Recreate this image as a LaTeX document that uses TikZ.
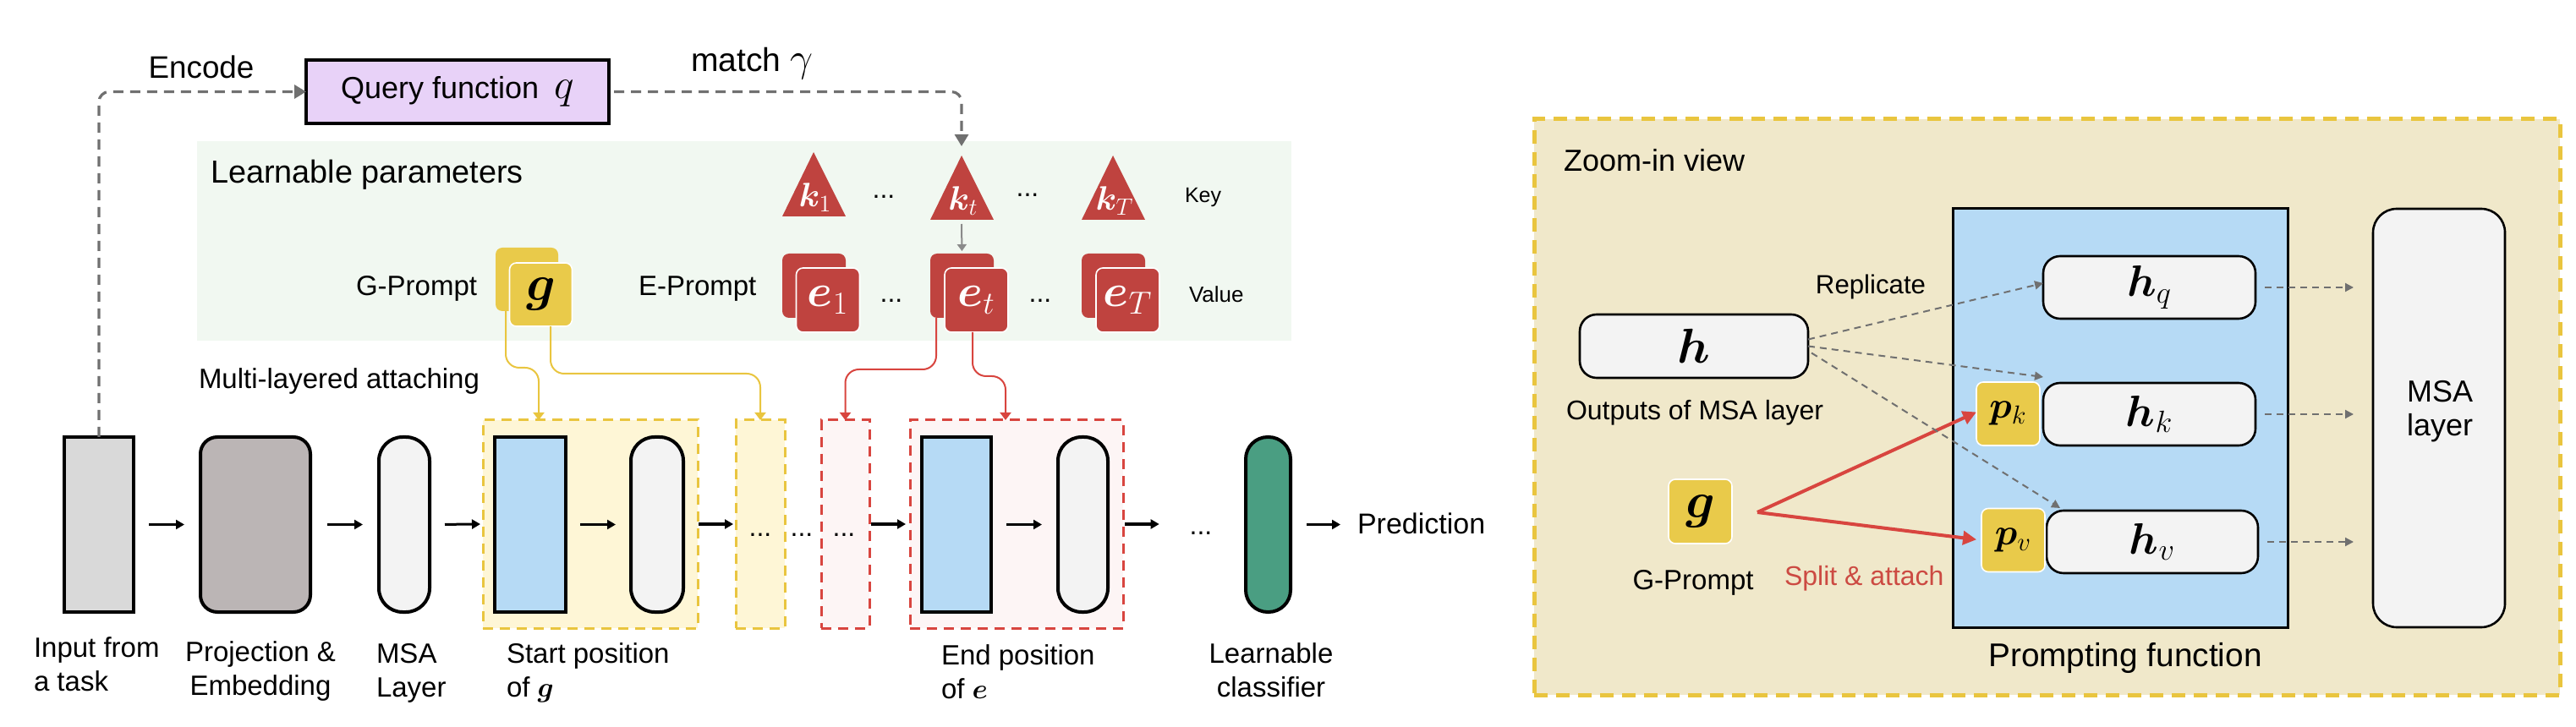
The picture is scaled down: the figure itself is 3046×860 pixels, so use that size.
\RequirePackage{fix-cm}
\documentclass[tikz,border=0pt]{standalone}
\usepackage{amsmath}
\usepackage{bm}
\usepackage{fontspec}
\setmainfont{Liberation Sans}
\usetikzlibrary{arrows.meta,calc}
\definecolor{qpurple}{HTML}{E8D2F8}
\definecolor{lgreen}{HTML}{F1F8F1}
\definecolor{kred}{HTML}{BF433F}
\definecolor{gyel}{HTML}{E9CA4A}
\definecolor{inpgrey}{HTML}{D9D9D9}
\definecolor{projgrey}{HTML}{BBB5B5}
\definecolor{msagrey}{HTML}{F3F3F3}
\definecolor{lblue}{HTML}{B6DAF5}
\definecolor{yfill}{HTML}{FEF6D6}
\definecolor{ydash}{HTML}{E9C53F}
\definecolor{rfill}{HTML}{FDF5F5}
\definecolor{rdash}{HTML}{D8453F}
\definecolor{clsgreen}{HTML}{4A9E82}
\definecolor{zfill}{HTML}{F0E8CA}
\definecolor{dgrey}{HTML}{707070}
\definecolor{agrey}{HTML}{8A8A8A}
\definecolor{splitred}{HTML}{CC4A42}
\begin{document}
\begin{tikzpicture}[x=0.5pt,y=-0.5pt,
  every node/.style={inner sep=0pt,outer sep=0pt},
  txt/.style={font=\fontsize{#1}{20}\selectfont},
  blk/.style={draw=black,line width=2pt,minimum height=103.5pt},
  region/.style={line width=1.5pt,dash pattern=on 6pt off 4pt,minimum height=123pt},
  rowarr/.style={-{Triangle[length=5pt,width=5.5pt]},line width=1.5pt},
  gdash/.style={draw=dgrey,line width=1.6pt,dash pattern=on 6pt off 4pt,-{Triangle[length=7pt,width=8pt]}},
  gdashs/.style={draw=dgrey,line width=1pt,dash pattern=on 4pt off 3pt,-{Triangle[length=5pt,width=5pt]}},
  yline/.style={draw=ydash,line width=1pt,rounded corners=8pt,-{Triangle[length=4.5pt,width=6.5pt]}},
  rline/.style={draw=rdash,line width=1pt,rounded corners=8pt,-{Triangle[length=4.5pt,width=6.5pt]}},
  rarr/.style={draw=rdash,line width=2pt,-{Triangle[length=8pt,width=8pt]}},
  kcardb/.style={fill=kred,rounded corners=4pt,minimum width=37.5pt,minimum height=38pt},
  kcardf/.style={fill=kred,draw=white,line width=0.8pt,rounded corners=4pt,minimum width=37.5pt,minimum height=38pt,text=white,font=\fontsize{27}{30}\selectfont},
  gcardb/.style={fill=gyel,rounded corners=4pt,minimum width=37pt,minimum height=37.5pt},
  gcardf/.style={fill=gyel,draw=white,line width=0.8pt,rounded corners=4pt,minimum width=37pt,minimum height=37.5pt,font=\fontsize{30}{32}\selectfont},
  hbx/.style={fill=msagrey,draw=black,line width=1.3pt,rounded corners=10pt,minimum height=37pt},
  dots/.style={font=\fontsize{16}{20}\selectfont}
]
\useasboundingbox (0,0) rectangle (3046,860);

% ---------- learnable parameters panel ----------
\node[fill=lgreen,minimum width=647pt,minimum height=118pt] (panel) at (880,285) {};
\node[txt=18.9,anchor=base west] (lp) at (249,217) {Learnable parameters};

\fill[kred] (925,256) -- (962,180) -- (1000,256) -- cycle;
\fill[kred] (1100,260) -- (1137,184) -- (1175,260) -- cycle;
\fill[kred] (1279,260) -- (1316,184) -- (1354,260) -- cycle;
\node[txt=20,text=white] (k1) at (964,234) {$\bm{k}_1$};
\node[txt=20,text=white] (kt) at (1139,238) {$\bm{k}_t$};
\node[txt=20,text=white] (kT) at (1318,238) {$\bm{k}_T$};
\coordinate (ktapex) at (1137,184);
\coordinate (ktbase) at (1137,265);
\node[dots] (kd1) at (1045,233) {...};
\node[dots] (kd2) at (1215,231) {...};
\node[txt=12.5,anchor=base west] (key) at (1401,240) {Key};

\node[kcardb] (e1b) at (962.5,338) {};
\node[kcardf] (e1f) at (979,355) {$\bm{e}_1$};
\node[kcardb] (etb) at (1137.5,338) {};
\node[kcardf] (etf) at (1154.5,355) {$\bm{e}_t$};
\node[kcardb] (eTb) at (1316.5,338) {};
\node[kcardf] (eTf) at (1333.5,355) {$\bm{e}_T$};
\node[dots] (ed1) at (1054,356) {...};
\node[dots] (ed2) at (1230,356) {...};
\node[txt=13,anchor=base west] (val) at (1406,358) {Value};
\node[txt=16.5,anchor=base west] (ep) at (755,350) {E-Prompt};

\node[gcardb] (gb) at (623,330.5) {};
\node[gcardf] (gf) at (639.5,348.5) {$\bm{g}$};
\node[txt=16.5,anchor=base west] (gp) at (421,350) {G-Prompt};

\draw[draw=agrey,line width=1pt,-{Triangle[length=4pt,width=5.5pt]},shorten >=1.5pt] (ktbase) -- (etb.north);

% ---------- query function ----------
\node[draw=black,line width=2pt,fill=qpurple,minimum width=179pt,minimum height=37.5pt,txt=18] (qbox) at (541,108.5) {Query function\hspace{9pt}{\fontsize{25}{28}\selectfont$q$}};
\node[txt=18.4,anchor=base] (enc) at (238,93) {Encode};
\node[txt=19.5,anchor=base west] (match) at (817,85) {match {\fontsize{24}{28}\selectfont$\gamma$}};

\node[txt=16.5,anchor=base west] (mla) at (235,460) {Multi-layered attaching};

% ---------- main row ----------
\node[blk,fill=inpgrey,minimum width=41pt] (inp) at (117,620.5) {};
\node[blk,fill=projgrey,minimum width=65pt,rounded corners=10pt] (proj) at (302,620.5) {};
\node[blk,fill=msagrey,minimum width=30pt,rounded corners=14pt] (msa1) at (478,620.5) {};
\node[region,draw=ydash,fill=yfill,minimum width=127pt] (yr1) at (698,620) {};
\node[blk,fill=lblue,minimum width=42pt] (blue1) at (627,620.5) {};
\node[blk,fill=msagrey,minimum width=31pt,rounded corners=14pt] (msa2) at (777,620.5) {};
\node[region,draw=ydash,fill=yfill,minimum width=29pt] (yr2) at (899,620) {};
\node[region,draw=rdash,fill=rfill,minimum width=28.5pt] (rr1) at (999.5,620) {};
\node[region,draw=rdash,fill=rfill,minimum width=126pt] (rr2) at (1202,620) {};
\node[blk,fill=lblue,minimum width=41pt] (blue2) at (1131,620.5) {};
\node[blk,fill=msagrey,minimum width=29.5pt,rounded corners=14pt] (msa3) at (1280.5,620.5) {};
\node[blk,fill=clsgreen,minimum width=26.5pt,rounded corners=13pt] (cls) at (1499.5,620.5) {};

\node[dots] (rd1) at (899,633) {...};
\node[dots] (rd2) at (948,633) {...};
\node[dots] (rd3) at (998,633) {...};
\node[dots] (rd4) at (1420,631) {...};
\node[txt=17,anchor=base west] (pred) at (1605,632) {Prediction};

\draw[rowarr,shorten <=9pt,shorten >=9.5pt] (inp.east) -- (proj.west);
\draw[rowarr,shorten <=10pt,shorten >=9.5pt] (proj.east) -- (msa1.west);
\draw[rowarr,shorten <=9pt,shorten >=1.5pt] (msa1.east) -- (yr1.west);
\draw[rowarr,shorten <=8.5pt,shorten >=9pt] (blue1.east) -- (msa2.west);
\draw[rowarr,shorten <=0.5pt,shorten >=1.5pt] (yr1.east) -- (yr2.west);
\draw[rowarr,shorten <=1pt,shorten >=2.5pt] (rr1.east) -- (rr2.west);
\draw[rowarr,shorten <=9pt,shorten >=9.5pt] (blue2.east) -- (msa3.west);
\draw[rowarr,shorten <=1pt,shorten >=18pt] (rr2.east) -- (rr2.east -| rd4.west);
\draw[rowarr,shorten <=9.5pt,shorten >=10pt] (cls.east) -- (cls.east -| pred.west);

% labels under row
\node[txt=16.5,align=left,anchor=north west] (linp) at (40,754) {Input from\\a task};
\node[txt=16.5,align=center,anchor=north] (lproj) at (308,759) {Projection \&\\Embedding};
\node[txt=16.5,align=left,anchor=north west] (lmsa) at (445,761) {MSA\\Layer};
\node[txt=16.5,align=left,anchor=north west] (lstart) at (599,761) {Start position\\of $\bm{g}$};
\node[txt=16.5,align=left,anchor=north west] (lend) at (1113,763) {End position\\of $\bm{e}$};
\node[txt=16.5,align=center,anchor=north] (lcls) at (1503,761) {Learnable\\classifier};

% ---------- connectors ----------
\draw[gdash,rounded corners=6pt] (inp.north) |- (qbox.west);
\draw[gdash,rounded corners=6pt,shorten <=3pt,shorten >=5.5pt] (qbox.east) -| (ktapex);

\draw[yline] ([xshift=-12.5pt]gb.south) -- ++(0,67) -| ([xshift=-30.5pt]yr1.north);
\draw[yline] ([xshift=5.75pt]gf.south) -- ++(0,56) -| (yr2.north);
\draw[rline] ([xshift=-15.25pt]etb.south) -- ++(0,61) -| (rr1.north);
\draw[rline] ([xshift=-2.25pt]etf.south) -- ++(0,52) -| ([xshift=-6.5pt]rr2.north);

% ---------- zoom-in view ----------
\node[draw=ydash,fill=zfill,line width=2.5pt,dash pattern=on 8pt off 5pt,minimum width=606.5pt,minimum height=340.5pt] (zbox) at (2420.5,481.5) {};
\node[txt=18,anchor=base west] (zt) at (1849,203) {Zoom-in view};

\node[fill=lblue,draw=black,line width=1.5pt,minimum width=198pt,minimum height=247.5pt] (pf) at (2507,494.5) {};
\node[txt=19.4,anchor=base] (pft) at (2513,788) {Prompting function};
\node[fill=msagrey,draw=black,line width=1.3pt,rounded corners=14pt,minimum width=78pt,minimum height=247.5pt] (msaR) at (2884,494.5) {};
\node[txt=18,align=center,anchor=north] (msaRt) at (2885,450) {MSA\\layer};

\node[hbx,minimum width=135pt,minimum height=37.5pt,font=\fontsize{29}{30}\selectfont] (hbox) at (2003,409.5) {$\bm{h}$};
\node[txt=16,anchor=base west] (outt) at (1852,497) {Outputs of MSA layer};
\node[txt=15.6,anchor=base] (rep) at (2212,348) {Replicate};

\node[hbx,minimum width=125.5pt,font=\fontsize{26}{28}\selectfont] (hq) at (2541.5,340) {$\bm{h}_q$};
\node[hbx,minimum width=125.5pt,font=\fontsize{26}{28}\selectfont] (hk) at (2541.5,490) {$\bm{h}_k$};
\node[hbx,minimum width=125pt,font=\fontsize{26}{28}\selectfont] (hv) at (2545,641) {$\bm{h}_v$};
\node[gcardf,minimum width=37.5pt,font=\fontsize{22}{24}\selectfont] (pk) at (2374.5,489.5) {$\bm{p}_k$};
\node[gcardf,minimum width=37.5pt,font=\fontsize{22}{24}\selectfont] (pv) at (2380.5,639) {$\bm{p}_v$};

\node[gcardf,minimum width=37.5pt,minimum height=38pt] (gR) at (2010.5,605) {$\bm{g}$};
\node[txt=16.5,anchor=base] (gRt) at (2002,697) {G-Prompt};
\node[txt=16,anchor=base west,text=splitred] (split) at (2110,692) {Split \& attach};

\coordinate (gsplit) at ($(gR.east)+(30,1)$);
\draw[rarr] (gsplit) -- ($(pk.west)+(0,-2)$);
\draw[rarr,shorten >=3pt] (gsplit) -- (pv.west);

\draw[gdashs] ($(hbox.east)+(0,-8)$) -- ($(hq.west)+(0,-5)$);
\draw[gdashs] (hbox.east) -- ($(hk.north west)+(0,-7)$);
\draw[gdashs] ($(hbox.east)+(4,8)$) -- ($(hv.north west)+(16,-3)$);

\draw[gdashs,shorten <=5.5pt,shorten >=11.5pt] (hq.east) -- (hq.east -| msaR.west);
\draw[gdashs,shorten <=5.5pt,shorten >=11.5pt] (hk.east) -- (hk.east -| msaR.west);
\draw[gdashs,shorten <=5.5pt,shorten >=11.5pt] (hv.east) -- (hv.east -| msaR.west);
\end{tikzpicture}
\end{document}
